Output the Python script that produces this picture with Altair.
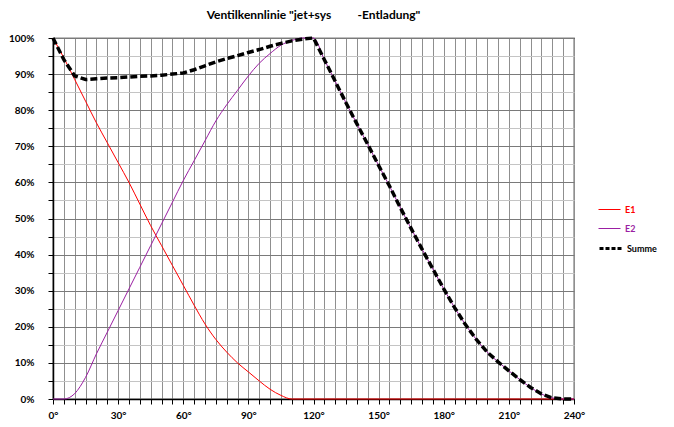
import altair as alt
import pandas as pd

angles = list(range(0, 241, 5))

e1 = [100, 94.5, 88.5, 82.5, 76.5, 71, 65.5, 60, 54, 48, 42.5, 37, 31.5, 26, 20.8,
      16.5, 13, 10, 7.5, 5, 2.7, 1, 0, 0, 0, 0, 0, 0, 0, 0, 0, 0, 0, 0, 0, 0, 0,
      0, 0, 0, 0, 0, 0, 0, 0, 0, 0, 0, 0]

summe = [100, 94, 89.5, 88.5, 88.7, 88.9, 89, 89.2, 89.4, 89.5, 89.7, 90, 90.3,
         91.2, 92.3, 93.4, 94.3, 95.1, 96, 96.8, 97.7, 98.5, 99.2, 99.7, 100,
         94, 88, 82, 76.2, 70.5, 64.7, 59, 53, 47.2, 41.5, 36, 30.5, 25.3, 20.6,
         16.5, 13, 10.3, 7.8, 5.4, 3.2, 1.4, 0.3, 0, 0]

e2 = [0, 0, 1.5, 6, 12.5, 18.5, 24.5, 30.5, 36.5, 42.5, 48.5, 54.5, 60.5, 66,
      71.5, 77, 81.5, 85.5, 89.5, 93, 95.7, 98, 99.3, 100, 100,
      94, 88, 82, 76.2, 70.5, 64.7, 59, 53, 47.2, 41.5, 36, 30.5, 25.3, 20.6,
      16.5, 13, 10.3, 7.8, 5.4, 3.2, 1.4, 0.3, 0, 0]

series_names = ["E1", "E2", "Summe"]
series_colors = ["#ff0000", "#9b1fa3", "#000000"]

rows = []
for name, vals in zip(series_names, (e1, e2, summe)):
    for a, v in zip(angles, vals):
        rows.append({"angle": a, "value": v, "series": name})
df = pd.DataFrame(rows)

FONT = "Lato"

x_enc = alt.X(
    "angle:Q",
    scale=alt.Scale(domain=[0, 240], nice=False),
    axis=alt.Axis(
        values=list(range(0, 241, 5)),
        labelExpr="datum.value % 30 === 0 ? datum.value + '°' : ''",
        title=None,
        grid=True,
        gridColor="#8f8f8f",
        gridWidth=1,
        domainColor="#000000",
        domainWidth=1.5,
        tickColor="#000000",
        tickSize=5,
        labelFont=FONT,
        labelFontWeight="bold",
        labelFontSize=10,
        labelColor="#000000",
        labelPadding=6,
        labelFlush=False,
        labelOverlap=False,
    ),
)

y_enc = alt.Y(
    "value:Q",
    scale=alt.Scale(domain=[0, 100], nice=False),
    axis=alt.Axis(
        values=list(range(0, 101, 5)),
        labelExpr="datum.value % 10 === 0 ? datum.value + '%' : ''",
        title=None,
        grid=True,
        gridColor={"condition": {"test": "datum.value % 10 === 0", "value": "#7a7a7a"},
                   "value": "#c4c4c4"},
        gridWidth=1,
        domainColor="#000000",
        domainWidth=1.5,
        tickColor="#000000",
        tickSize=5,
        labelFont=FONT,
        labelFontWeight="bold",
        labelFontSize=10,
        labelColor="#000000",
        labelPadding=14,
        labelOverlap=False,
    ),
)


def line_layer(name, color, width, dash, legend_y, interp):
    legend_kwargs = dict(
        orient="none",
        legendX=545,
        legendY=legend_y,
        title=None,
        symbolType="stroke",
        symbolSize=484,
        symbolStrokeWidth=width if width < 3 else 3,
        symbolStrokeColor=color,
        labelColor=color,
        labelFont=FONT,
        labelFontWeight="bold",
        labelFontSize=9,
        labelOffset=4,
        padding=0,
    )
    mark_kwargs = dict(strokeWidth=width, strokeCap="butt", interpolate=interp)
    if dash is not None:
        legend_kwargs["symbolDash"] = [4, 2]
        mark_kwargs["strokeDash"] = dash
    return (
        alt.Chart(df)
        .transform_filter(alt.datum.series == name)
        .mark_line(**mark_kwargs)
        .encode(
            x=x_enc,
            y=y_enc,
            color=alt.Color(
                "series:N",
                scale=alt.Scale(domain=[name], range=[color]),
                legend=alt.Legend(**legend_kwargs),
            ),
        )
    )


layers = [
    line_layer("E1", series_colors[0], 1, None, 160, "monotone"),
    line_layer("E2", series_colors[1], 1, None, 179, "monotone"),
    line_layer("Summe", series_colors[2], 3.5, [7, 3], 198, "linear"),
]

chart = (
    alt.layer(*layers)
    .resolve_scale(color="independent")
    .properties(
        width=521,
        height=361,
        autosize=alt.AutoSizeParams(type="none"),
        padding={"left": 45, "top": 30, "right": 92, "bottom": 20},
        title=alt.TitleParams(
            "Ventilkennlinie \"jet+sys\u00a0\u00a0\u00a0\u00a0\u00a0\u00a0\u00a0\u00a0 -Entladung\"",
            font=FONT,
            fontSize=12,
            fontWeight="bold",
            color="#000000",
            anchor="middle",
            offset=9,
        ),
        background="#ffffff",
    )
    .configure_view(stroke="#000000", strokeWidth=1.2)
)

chart.save("out.html", embed_options={"renderer": "svg", "actions": False})
